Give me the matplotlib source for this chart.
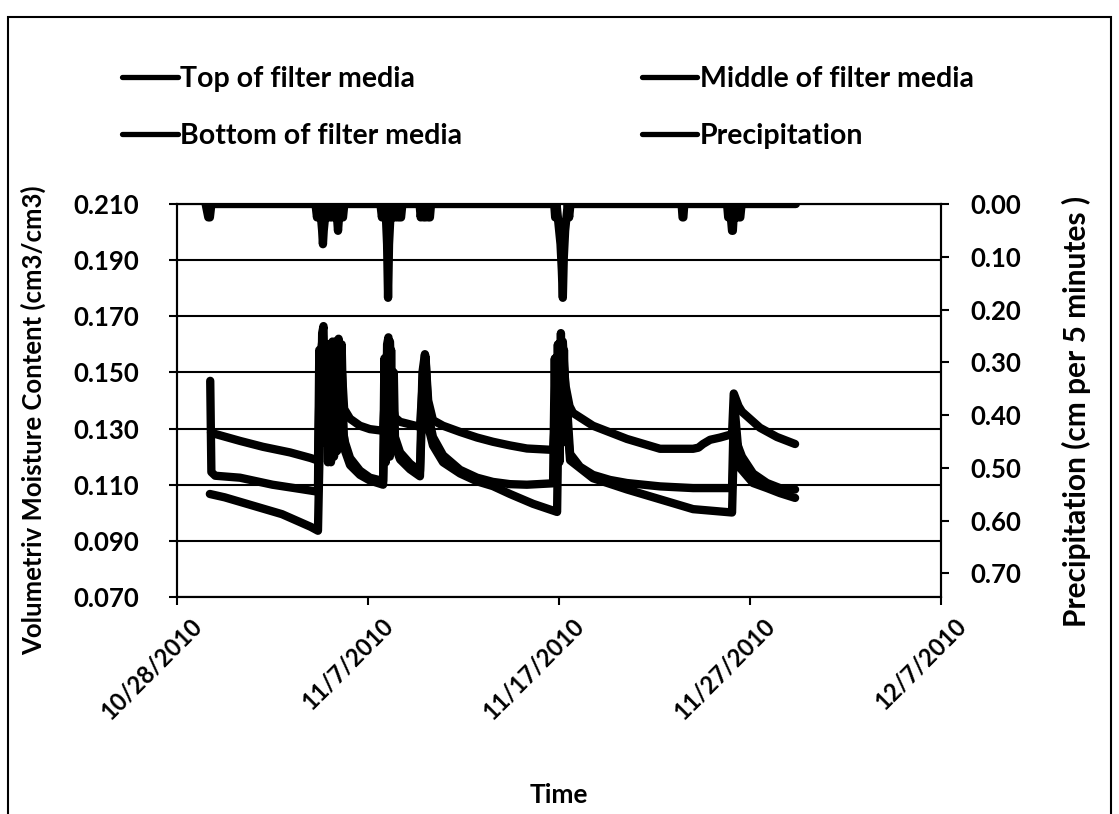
import matplotlib
matplotlib.use('Agg')
import numpy as np
import pandas as pd
import matplotlib.pyplot as plt
import matplotlib.dates as mdates
import matplotlib.transforms as mtransforms
from matplotlib.patches import Rectangle
from matplotlib.ticker import FuncFormatter

START = pd.Timestamp('2010-10-28')

# sensor readings, (days after 10/28/2010, cm3/cm3)
top_days = [1.72, 2.50, 4.00, 5.50, 7.00, 7.38,
            7.55, 7.75, 7.95, 8.10, 8.35, 8.55, 8.70, 8.80,
            9.06, 9.58, 10.10, 10.79,
            10.95, 11.15, 11.30, 11.41, 11.68, 12.20, 12.72,
            12.90, 13.02, 13.18, 13.40, 13.93, 14.82, 15.71, 16.54, 17.43, 18.64, 19.90,
            20.00, 20.20, 20.40, 20.58, 21.78, 23.56, 25.29, 27.02, 29.06,
            29.20, 29.35, 29.48, 30.16, 30.89, 31.57, 32.36]
top_vwc = [0.1067, 0.1055, 0.1025, 0.0995, 0.0950, 0.0936,
           0.150, 0.158, 0.130, 0.156, 0.125, 0.160, 0.130, 0.122,
           0.1170, 0.1135, 0.1115, 0.1100,
           0.155, 0.161, 0.130, 0.124, 0.119, 0.1155, 0.1130,
           0.150, 0.155, 0.130, 0.124, 0.118, 0.1140, 0.1112, 0.1095, 0.1067, 0.1032, 0.1003,
           0.150, 0.161, 0.135, 0.1187, 0.1123, 0.1083, 0.1048, 0.1013, 0.1001,
           0.137, 0.125, 0.116, 0.1106, 0.1088, 0.1070, 0.1053]

middle_days = [1.74, 1.80, 2.00, 3.30, 5.00, 6.44, 7.38,
               7.45, 7.52, 7.60, 7.67, 7.74, 7.82, 7.90, 7.98, 8.06, 8.14, 8.22, 8.30,
               8.38, 8.46, 8.54, 8.62, 8.72, 8.80,
               9.06, 9.58, 10.10, 10.79,
               10.86, 10.93, 11.00, 11.07, 11.14, 11.21, 11.28, 11.35, 11.41,
               11.68, 12.20, 12.72,
               12.85, 12.98, 13.15, 13.40, 13.93, 14.82, 15.71, 16.54, 17.43, 18.32, 19.69,
               19.78, 19.86, 19.94, 20.02, 20.10, 20.18, 20.26, 20.34, 20.45, 20.58,
               21.10, 21.78, 22.67, 23.56, 25.29, 27.02, 29.06,
               29.15, 29.30, 29.58, 30.16, 30.89, 31.57, 32.36]
middle_vwc = [0.147, 0.1145, 0.1132, 0.1125, 0.1100, 0.1085, 0.1075,
              0.158, 0.125, 0.164, 0.1665, 0.125, 0.160, 0.118, 0.160, 0.118, 0.161, 0.120, 0.161,
              0.122, 0.162, 0.125, 0.160, 0.128, 0.125,
              0.1195, 0.1150, 0.1125, 0.1113,
              0.155, 0.118, 0.160, 0.1625, 0.120, 0.158, 0.125, 0.150, 0.127,
              0.1215, 0.1175, 0.1148,
              0.150, 0.1565, 0.135, 0.127, 0.1205, 0.1153, 0.1125, 0.1110, 0.1102, 0.1100, 0.1105,
              0.155, 0.115, 0.160, 0.118, 0.164, 0.125, 0.158, 0.130, 0.135, 0.121,
              0.1164, 0.1135, 0.1117, 0.1106, 0.1094, 0.1088, 0.1088,
              0.135, 0.125, 0.120, 0.114, 0.1106, 0.1088, 0.1083]

bottom_days = [1.78, 3.30, 4.50, 5.92, 7.00, 7.38,
               7.50, 7.64, 7.85, 8.05, 8.30, 8.45, 8.64, 8.75,
               9.06, 9.58, 10.10, 10.79,
               10.95, 11.10, 11.25, 11.41, 11.68, 12.20, 12.72,
               12.90, 13.00, 13.15, 13.40, 13.93, 14.82, 15.71, 16.54, 17.43, 18.32, 19.69,
               19.95, 20.15, 20.35, 20.55, 20.73, 21.78, 23.56, 25.29, 27.02, 27.30, 27.54, 27.91, 28.43, 29.06,
               29.15, 29.40, 29.58, 30.52, 31.41, 32.36]
bottom_vwc = [0.1285, 0.1256, 0.1235, 0.1215, 0.1195, 0.1186,
              0.155, 0.163, 0.140, 0.158, 0.145, 0.161, 0.150, 0.137,
              0.1335, 0.1310, 0.1298, 0.1292,
              0.150, 0.158, 0.140, 0.1340, 0.1324, 0.1315, 0.1306,
              0.150, 0.156, 0.140, 0.1330, 0.1310, 0.1288, 0.1268, 0.1253, 0.1240, 0.1229, 0.1224,
              0.150, 0.160, 0.145, 0.138, 0.1356, 0.1310, 0.1263, 0.1228, 0.1228, 0.1232, 0.1245, 0.1260, 0.1268, 0.1280,
              0.1425, 0.1380, 0.1360, 0.1303, 0.1270, 0.1245]

# rain gauge, cm per 5 minutes
precip_days = [1.50, 1.64, 1.68, 1.72, 1.80,
               7.25, 7.33, 7.40, 7.47, 7.54, 7.60, 7.64, 7.68, 7.75, 7.82, 7.89, 7.96,
               8.03, 8.10, 8.17, 8.24, 8.31, 8.38, 8.43, 8.48, 8.55, 8.62, 8.69, 8.76,
               10.65, 10.73, 10.80, 10.87, 10.94, 11.00, 11.05, 11.10, 11.17, 11.24,
               11.31, 11.38, 11.45, 11.52, 11.59, 11.66, 11.73, 11.80,
               12.70, 12.76, 12.84, 12.92, 13.00, 13.08, 13.16, 13.24, 13.30,
               19.75, 19.80, 19.87, 19.94, 20.01, 20.08, 20.15, 20.20, 20.25, 20.32,
               20.39, 20.46, 20.53, 20.60,
               26.42, 26.47, 26.51, 26.56,
               28.80, 28.86, 28.93, 29.00, 29.06, 29.10, 29.14, 29.21, 29.28, 29.35,
               29.42, 29.49, 29.56,
               32.40]
precip_cm = [0, 0.0254, 0.0254, 0.0254, 0,
             0, 0.0254, 0, 0.0254, 0.0254, 0.0508, 0.0762, 0.0508, 0.0254, 0, 0.0254, 0,
             0.0254, 0.0254, 0, 0.0254, 0, 0.0254, 0.0508, 0.0254, 0, 0.0254, 0.0254, 0,
             0, 0.0254, 0, 0.0254, 0.0254, 0.0762, 0.1778, 0.0762, 0.0254, 0,
             0.0254, 0, 0.0254, 0, 0.0254, 0.0254, 0.0254, 0,
             0, 0.0254, 0, 0.0254, 0.0254, 0, 0.0254, 0.0254, 0,
             0, 0.0254, 0, 0.0254, 0.0508, 0.0762, 0.1270, 0.1778, 0.1016, 0.0508,
             0.0254, 0, 0.0254, 0,
             0, 0.0254, 0.0254, 0,
             0, 0.0254, 0, 0.0254, 0.0508, 0.0508, 0.0254, 0, 0.0254, 0,
             0.0254, 0.0254, 0,
             0]

x_ticks = ['2010-10-28', '2010-11-07', '2010-11-17', '2010-11-27', '2010-12-07']
vwc_ticks = [0.07, 0.09, 0.11, 0.13, 0.15, 0.17, 0.19, 0.21]
precip_ticks = [0.0, 0.1, 0.2, 0.3, 0.4, 0.5, 0.6, 0.7]


def to_time(days):
    return (START + pd.to_timedelta(np.asarray(days), unit='D')).to_numpy()


def date_label(x, pos=None):
    d = mdates.num2date(x)
    return f'{d.month}/{d.day}/{d.year}'


plt.rcParams['font.family'] = ['Lato', 'DejaVu Sans']
plt.rcParams['font.weight'] = 'bold'

W, H = 1119, 814
fig = plt.figure(figsize=(W / 100, H / 100), dpi=100)
fig.patches.append(Rectangle((8 / W, -0.05), 1103 / W, 1.05 - 17 / H, transform=fig.transFigure,
                             fill=False, edgecolor='black', linewidth=1.5))

ax = fig.add_axes([177 / W, 1 - 597 / H, 764 / W, 393 / H])
ax2 = ax.twinx()

lw = 6.0
style = dict(color='black', lw=lw, solid_capstyle='round', solid_joinstyle='round')
l_top, = ax.plot(to_time(top_days), top_vwc, zorder=3, **style)
l_mid, = ax.plot(to_time(middle_days), middle_vwc, zorder=3, **style)
l_bot, = ax.plot(to_time(bottom_days), bottom_vwc, zorder=3, **style)
l_pre, = ax2.plot(to_time(precip_days), precip_cm, **style)

ax.set_ylim(0.07, 0.21)
ax.set_yticks(vwc_ticks)
ax.yaxis.set_major_formatter(FuncFormatter(lambda v, p: f'{v:.3f}'))
ax.grid(True, axis='y', color='black', linewidth=1.5, zorder=1)
ax.set_axisbelow(True)

ax2.set_ylim(0.745, 0.0)
ax2.set_yticks(precip_ticks)
ax2.yaxis.set_major_formatter(FuncFormatter(lambda v, p: f'{v:.2f}'))

ax.set_xlim(pd.Timestamp(x_ticks[0]), pd.Timestamp(x_ticks[-1]))
ax.set_xticks(pd.to_datetime(x_ticks))
ax.xaxis.set_major_formatter(FuncFormatter(date_label))

for a in (ax, ax2):
    for s in a.spines.values():
        s.set_linewidth(1.5)
        s.set_color('black')

ax.tick_params(axis='y', direction='out', length=6, width=1.5, pad=21, labelsize=18.5)
ax.tick_params(axis='x', direction='out', length=6, width=1.5, pad=12, labelsize=17)
ax2.tick_params(axis='y', direction='out', length=6, width=1.5, pad=15, labelsize=18.5)

shift = mtransforms.ScaledTranslation(0.21, 0, fig.dpi_scale_trans)
for lab in ax.get_xticklabels():
    lab.set_rotation(45)
    lab.set_rotation_mode('anchor')
    lab.set_ha('right')
    lab.set_va('center')
    lab.set_transform(lab.get_transform() + shift)

fig.text(33 / W, 1 - 420 / H, 'Volumetriv Moisture Content (cm3/cm3)', rotation=90,
         ha='center', va='center', fontsize=18.5)
fig.text(1076 / W, 1 - 411 / H, 'Precipitation (cm per 5 minutes )', rotation=90,
         ha='center', va='center', fontsize=21.5)
fig.text(559 / W, 1 - 795 / H, 'Time', ha='center', va='center', fontsize=19)

leg = fig.legend([l_top, l_bot, l_mid, l_pre],
                 ['Top of filter media', 'Bottom of filter media',
                  'Middle of filter media', 'Precipitation'],
                 ncol=2, loc='upper left', bbox_to_anchor=(122 / W, 1 - 66 / H),
                 frameon=False, fontsize=20.5, handlelength=1.96, handletextpad=0.08,
                 columnspacing=6.3, labelspacing=1.08, borderpad=0, borderaxespad=0)
for hl in leg.get_lines():
    hl.set_linewidth(3.8)
    hl.set_solid_capstyle('round')

fig.savefig('out.png', dpi=100)
